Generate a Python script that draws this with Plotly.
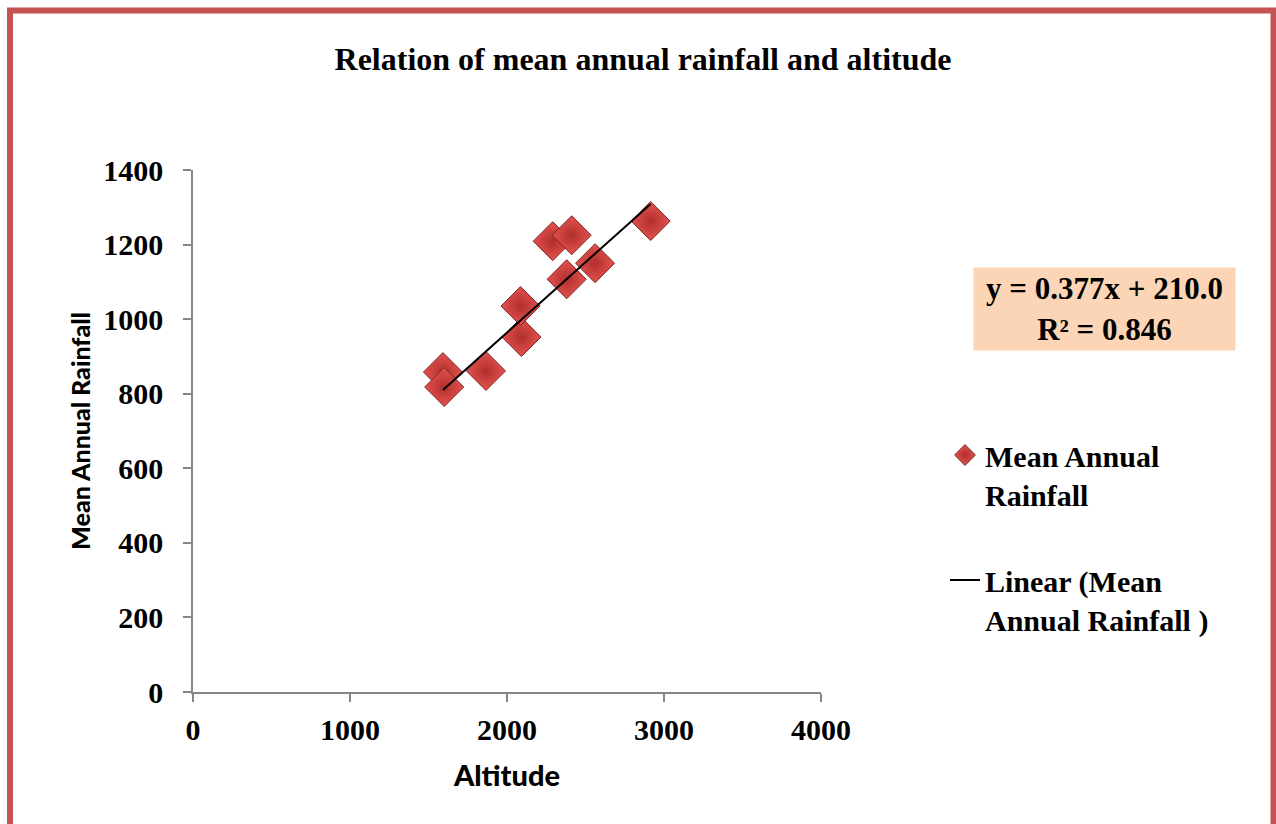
import plotly.graph_objects as go

# ---- data ----
altitude = [1592, 1600, 1866, 2092, 2086, 2380, 2561, 2291, 2412, 2915]
rainfall = [858, 818, 861, 952, 1035, 1107, 1150, 1209, 1225, 1263]
trend_slope = 0.377
trend_intercept = 210.0
r_squared = 0.846
x_ticks = [0, 1000, 2000, 3000, 4000]
y_ticks = [0, 200, 400, 600, 800, 1000, 1200, 1400]

title_text = "Relation of mean annual rainfall and altitude"
series_name = "Mean Annual<br>Rainfall"
trend_name = "Linear (Mean<br>Annual Rainfall )"

serif = "Liberation Serif, Times New Roman, serif"
sans = "Lato, Liberation Sans, Arial, sans-serif"

W, H = 1276, 824
L, R, T, B = 193, W - 821, 170, H - 692
pw, ph = W - L - R, H - T - B

def px_x(p):
    return (p - L) / pw

def px_y(p):
    return (H - B - p) / ph

tx = [min(altitude), max(altitude)]
ty = [trend_slope * v + trend_intercept for v in tx]

fig = go.Figure()
fig.add_trace(go.Scatter(
    x=altitude, y=rainfall, mode="markers", name=series_name,
    legendgroup="a",
    marker=dict(symbol="diamond", size=30, color="#E5524E",
                gradient=dict(type="radial", color="#B02F2D"),
                line=dict(color="#7A2626", width=1)),
))
fig.add_trace(go.Scatter(
    x=tx, y=ty, mode="lines", name=trend_name, legendgroup="b",
    line=dict(color="#000000", width=2),
))

axis_common = dict(
    showgrid=False, zeroline=False, showline=True, linecolor="#868686",
    linewidth=1.5, ticks="outside", ticklen=8, tickcolor="#868686",
    tickwidth=1.5,
    tickfont=dict(family=serif, size=30, color="#000000", weight="bold"),
)

fig.update_layout(
    width=W, height=H,
    margin=dict(l=L, r=R, t=T, b=B, autoexpand=False),
    paper_bgcolor="#FFFFFF", plot_bgcolor="#FFFFFF",
    title=dict(text=title_text, x=643 / W, xref="container",
               y=1 - 59 / H, yref="container", xanchor="center", yanchor="middle",
               font=dict(family=serif, size=32, color="#000000", weight="bold")),
    xaxis=dict(range=[0, 4000], tickvals=x_ticks, ticklabelstandoff=2,
               title=dict(text="Altitude", standoff=21,
                          font=dict(family=sans, size=29, color="#000000",
                                    weight=900)),
               **axis_common),
    yaxis=dict(range=[0, 1400], tickvals=y_ticks, ticklabelstandoff=14,
               title=dict(text="Mean Annual Rainfall", standoff=6,
                          font=dict(family=sans, size=25, color="#000000",
                                    weight=900)),
               **axis_common),
    legend=dict(x=945 / W, xref="container", y=1 - 429 / H, yref="container",
                xanchor="left", yanchor="top", valign="top",
                tracegroupgap=44, bgcolor="rgba(0,0,0,0)",
                font=dict(family=serif, size=30, color="#000000", weight="bold")),
    showlegend=True,
    shapes=[dict(type="rect", xref="paper", yref="paper",
                 x0=px_x(10), x1=px_x(1273.5), y0=px_y(840), y1=px_y(10.5),
                 line=dict(color="#C55351", width=6), fillcolor="rgba(0,0,0,0)",
                 layer="above")],
    annotations=[dict(
        xref="paper", yref="paper", x=px_x(1104.5), y=px_y(309),
        xanchor="center", yanchor="middle", showarrow=False,
        text="y = %.3fx + %.1f<br>R² = %.3f" % (trend_slope, trend_intercept, r_squared),
        font=dict(family=serif, size=31, color="#000000", weight="bold"),
        bgcolor="#FBD5B5", width=255, height=76, borderpad=3, align="center",
    )],
)

fig.write_html("out.html")
